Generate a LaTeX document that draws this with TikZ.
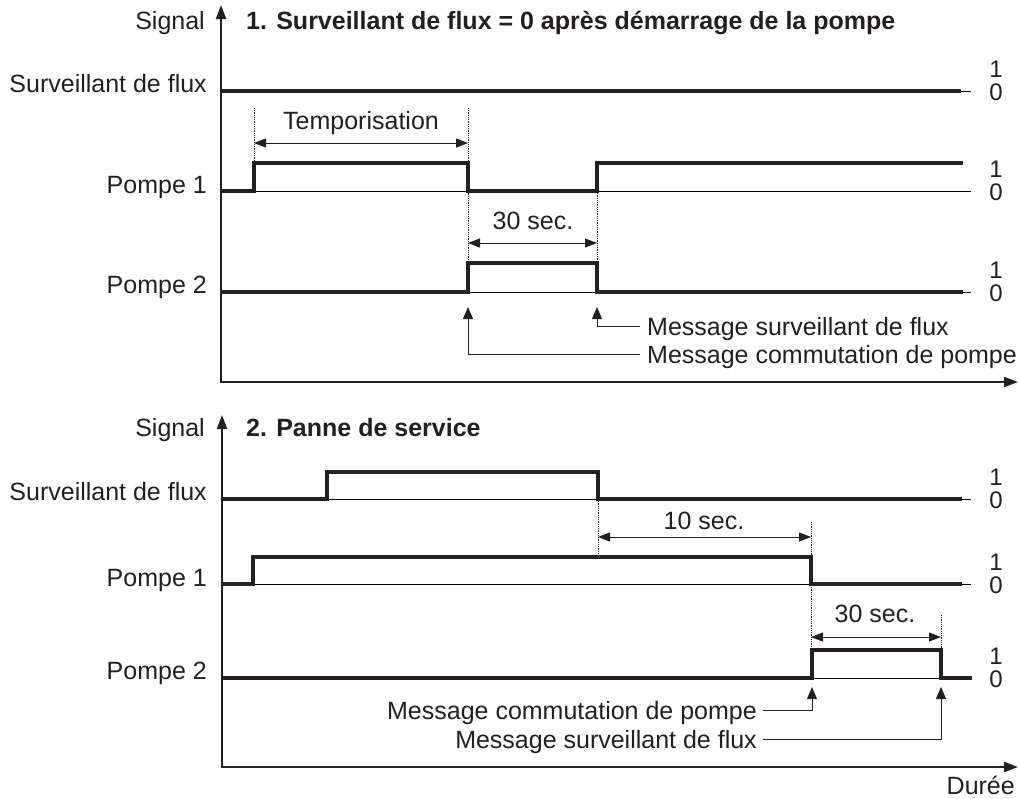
\documentclass[tikz,border=0pt]{standalone}
\usepackage{fontspec}
\setmainfont{Liberation Sans}
\usetikzlibrary{arrows.meta}
\definecolor{ink}{RGB}{35,31,32}
\definecolor{thin}{RGB}{140,140,140}
\begin{document}
\begin{tikzpicture}[x=1pt,y=-1pt,
 sig/.style={line width=4pt, line join=miter, ink},
 base/.style={line width=1.2pt, thin},
 axis/.style={line width=2.2pt, ink, {Triangle[length=14pt,width=10pt]}-{Triangle[length=14pt,width=10pt]}},
 dim/.style={line width=1pt, ink, {Triangle[length=12pt,width=9pt]}-{Triangle[length=12pt,width=9pt]}},
 guide/.style={line width=0.8pt, ink, densely dotted},
 msg/.style={line width=1pt, ink, -{Triangle[length=12pt,width=10pt]}},
 lbl/.style={inner sep=0pt, text=ink, font=\fontsize{25}{30}\selectfont},
 digit/.style={inner sep=0pt, text=ink, anchor=base, font=\fontsize{24}{28}\selectfont},
 ttl/.style={inner sep=0pt, text=ink, anchor=base west, font=\fontsize{25}{30}\selectfont\bfseries},
]
\useasboundingbox (0,0) rectangle (1019,798);

% ================= Chart 1 =================
\node[lbl, anchor=base east] (sig1) at (205,29) {Signal};
\node[ttl] (title1) at (246,29) {1. Surveillant de flux = 0 après démarrage de la pompe};
\node[lbl, anchor=base east] (l1s) at (207,92) {Surveillant de flux};
\node[lbl, anchor=base east] (l1p1) at (207,193) {Pompe 1};
\node[lbl, anchor=base east] (l1p2) at (207,293) {Pompe 2};

% baselines
\draw[base] (221,91) -- (971,91);
\draw[base] (221,191) -- (971,191);
\draw[base] (221,292) -- (971,292);
% levels
\foreach \yy/\nm in {91/a,191/b,292/c}{
  \node[digit] (one\nm) at (996,\yy-14) {1};
  \node[digit] (zero\nm) at (996,\yy+9.5) {0};
}
% signals
\draw[sig] (221,91) -- (961,91);
\draw[sig] (221,191) -- (254,191) -- (254,163) -- (468,163) -- (468,191) -- (597,191) -- (597,163) -- (963,163);
\draw[sig] (221,292) -- (468,292) -- (468,263) -- (597,263) -- (597,292) -- (963,292);

% dimensions
\draw[guide] (254,108) -- (254,163);
\draw[guide] (468,108) -- (468,263);
\draw[guide] (597,191) -- (597,263);
\draw[dim] (254,143) -- (468,143);
\node[lbl, anchor=base] (temp) at (361,129) {Temporisation};
\draw[dim] (468,243) -- (597,243);
\node[lbl, anchor=base] (t30a) at (533,229) {30 sec.};

% messages
\node[lbl, anchor=base west] (m1s) at (647,335) {Message surveillant de flux};
\node[lbl, anchor=base west] (m1c) at (647,363) {Message commutation de pompe};
\coordinate (m1sTip) at (597,307);
\coordinate (m1cTip) at (468,307);
\draw[msg] (640,326) -| (m1sTip);
\draw[msg] (640,354) -| (m1cTip);

% axes
\draw[axis] (221,5) -- (221,382) -- (1018,382);

% ================= Chart 2 =================
\node[lbl, anchor=base east] (sig2) at (205,436) {Signal};
\node[ttl] (title2) at (246,436) {2. Panne de service};
\node[lbl, anchor=base east] (l2s) at (207,500) {Surveillant de flux};
\node[lbl, anchor=base east] (l2p1) at (207,586) {Pompe 1};
\node[lbl, anchor=base east] (l2p2) at (207,679) {Pompe 2};

\draw[base] (221,499) -- (971,499);
\draw[base] (221,584) -- (971,584);
\draw[base] (221,678) -- (971,678);
\foreach \yy/\nm in {499/d,584/e,678/f}{
  \node[digit] (one\nm) at (996,\yy-14) {1};
  \node[digit] (zero\nm) at (996,\yy+9.5) {0};
}
\draw[sig] (221,499) -- (327,499) -- (327,472) -- (598,472) -- (598,499) -- (962,499);
\draw[sig] (221,584) -- (253,584) -- (253,557) -- (811,557) -- (811,584) -- (962,584);
\draw[sig] (221,678) -- (812,678) -- (812,650) -- (941,650) -- (941,678) -- (972,678);

\draw[guide] (598,499) -- (598,557);
\draw[guide] (811,522) -- (811,650);
\draw[guide] (941,615) -- (941,650);
\draw[dim] (598,537) -- (811,537);
\node[lbl, anchor=base] (t10) at (704,529) {10 sec.};
\draw[dim] (811,637) -- (941,637);
\node[lbl, anchor=base] (t30b) at (875,622) {30 sec.};

\node[lbl, anchor=base east] (m2c) at (757,719) {Message commutation de pompe};
\node[lbl, anchor=base east] (m2s) at (757,748) {Message surveillant de flux};
\coordinate (m2cTip) at (812,687);
\coordinate (m2sTip) at (941,687);
\draw[msg] (763,710) -| (m2cTip);
\draw[msg] (763,739) -| (m2sTip);

\draw[axis] (222,415) -- (222,767) -- (1018,767);
\node[lbl, anchor=base east] (duree) at (1015,794) {Durée};
\end{tikzpicture}
\end{document}
